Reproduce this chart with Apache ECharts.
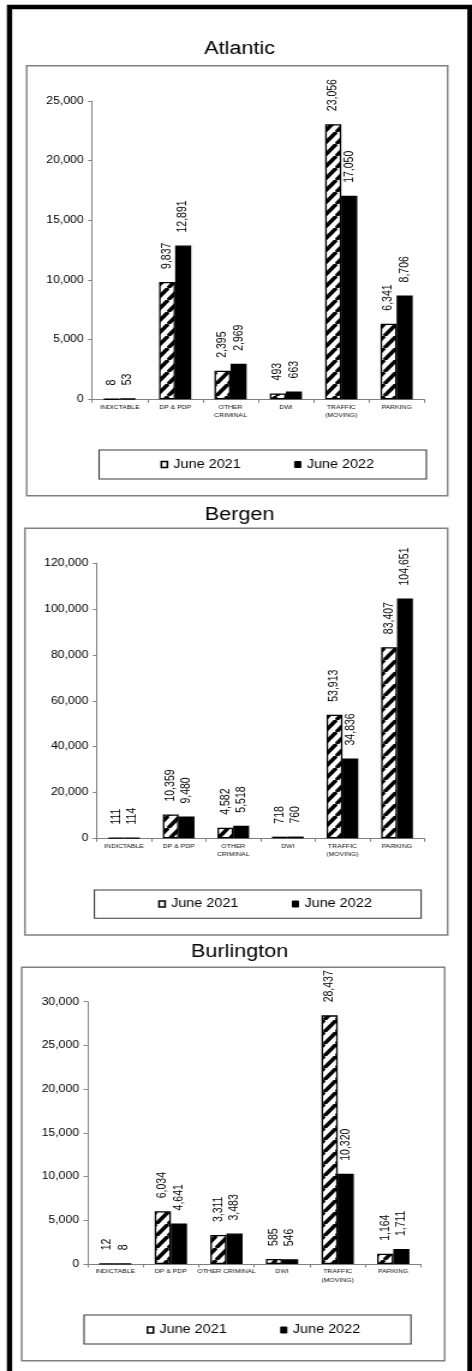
<!DOCTYPE html>
<html>
<head>
<meta charset="utf-8">
<script src="https://cdn.jsdelivr.net/npm/echarts@6/dist/echarts.min.js"></script>
<style>
  html, body { margin: 0; padding: 0; background: #fff; overflow: hidden; }
  /* chart is laid out narrow, then stretched sideways like the source image */
  #main { width: 393px; height: 1371px; transform: scaleX(1.201); transform-origin: 0 0; }
</style>
</head>
<body>
<div id="main"></div>
<script>
// data
const categories = ['INDICTABLE', 'DP & PDP', 'OTHER\nCRIMINAL', 'DWI', 'TRAFFIC\n(MOVING)', 'PARKING'];
const categoriesBurlington = ['INDICTABLE', 'DP & PDP', 'OTHER CRIMINAL', 'DWI', 'TRAFFIC\n(MOVING)', 'PARKING'];
const seriesNames = ['June 2021', 'June 2022'];

const atlantic2021 = [8, 9837, 2395, 493, 23056, 6341];
const atlantic2022 = [53, 12891, 2969, 663, 17050, 8706];
const bergen2021 = [111, 10359, 4582, 718, 53913, 83407];
const bergen2022 = [114, 9480, 5518, 760, 34836, 104651];
const burlington2021 = [12, 6034, 3311, 585, 28437, 1164];
const burlington2022 = [8, 4641, 3483, 546, 10320, 1711];

const counties = [
  { title: 'Atlantic', cats: categories, a: atlantic2021, b: atlantic2022, max: 25000, step: 5000 },
  { title: 'Bergen', cats: categories, a: bergen2021, b: bergen2022, max: 120000, step: 20000 },
  { title: 'Burlington', cats: categoriesBurlington, a: burlington2021, b: burlington2022, max: 30000, step: 5000 },
];

// layout (px, before the sideways stretch)
const FONT = '"Liberation Sans", Arial, sans-serif';
const grids = [
  { left: 76.7, top: 101, width: 276.6, height: 298.3 },
  { left: 80.6, top: 563.3, width: 272.7, height: 275 },
  { left: 72.8, top: 1001.7, width: 277.8, height: 262.3 },
];
const titleTops = [40.3, 506, 943];
const legendPos = [
  { left: 133.6, top: 458.5 },
  { left: 131.7, top: 898 },
  { left: 122, top: 1324 },
];
const boxes = [
  [22.2, 65.7, 372.75, 495.7],
  [20.8, 528.3, 372.75, 935],
  [18.1, 967.3, 370.25, 1360.7],
];
const legendBoxes = [
  [82.5, 450, 355, 479],
  [78.6, 890, 350.6, 918.3],
  [70, 1315, 342.2, 1344],
];

function hatch() {
  const w = 10, h = 12;
  const c = document.createElement('canvas');
  c.width = w; c.height = h;
  const ctx = c.getContext('2d');
  ctx.fillStyle = '#fff';
  ctx.fillRect(0, 0, w, h);
  ctx.strokeStyle = '#000';
  ctx.lineWidth = 3.5;
  ctx.beginPath();
  for (let k = -1; k <= 1; k++) {
    ctx.moveTo(k * w, h);
    ctx.lineTo(k * w + w, 0);
  }
  ctx.stroke();
  return c;
}
const hatchFill = { image: hatch(), repeat: 'repeat' };

const fmt = (v) => Number(v).toLocaleString('en-US');

const option = {
  backgroundColor: '#fff',
  animation: false,
  title: [],
  legend: [],
  grid: [],
  xAxis: [],
  yAxis: [],
  series: [],
  graphic: [],
};

counties.forEach((c, i) => {
  option.title.push({
    text: c.title,
    left: 199.6,
    top: titleTops[i],
    textAlign: 'center',
    padding: 0,
    textStyle: { fontFamily: FONT, fontSize: 18, fontWeight: 'normal', color: '#000' },
  });
  option.grid.push(Object.assign({ outerBoundsMode: 'none', containLabel: false }, grids[i]));
  option.xAxis.push({
    type: 'category',
    gridIndex: i,
    data: c.cats,
    axisLine: { lineStyle: { color: '#808080', width: 1 } },
    axisTick: { show: true, alignWithLabel: false, length: 3.5, lineStyle: { color: '#808080' } },
    axisLabel: { interval: 0, margin: 3.5, fontFamily: FONT, fontSize: 5.7, lineHeight: 8.4, color: '#111' },
    splitLine: { show: false },
  });
  option.yAxis.push({
    type: 'value',
    gridIndex: i,
    min: 0,
    max: c.max,
    interval: c.step,
    axisLine: { show: true, lineStyle: { color: '#808080', width: 1 } },
    axisTick: { show: true, length: 3.3, lineStyle: { color: '#808080' } },
    axisLabel: { margin: 7, fontFamily: FONT, fontSize: 10.2, color: '#000', formatter: fmt },
    splitLine: { show: false },
  });
  const label = {
    show: true,
    position: 'top',
    rotate: 90,
    align: 'left',
    verticalAlign: 'middle',
    distance: 13,
    fontFamily: FONT,
    fontSize: 10.5,
    color: '#000',
    formatter: (p) => fmt(p.value),
  };
  option.series.push({
    name: seriesNames[0],
    type: 'bar',
    xAxisIndex: i,
    yAxisIndex: i,
    data: c.a,
    barWidth: '29%',
    barGap: '0%',
    itemStyle: { color: hatchFill, borderColor: '#000', borderWidth: 1.3 },
    label: label,
  });
  option.series.push({
    name: seriesNames[1],
    type: 'bar',
    xAxisIndex: i,
    yAxisIndex: i,
    data: c.b,
    barWidth: '29%',
    barGap: '0%',
    itemStyle: { color: '#000', borderColor: '#000', borderWidth: 1.3 },
    label: label,
  });
  option.legend.push({
    left: legendPos[i].left,
    top: legendPos[i].top,
    padding: 0,
    itemGap: 44.5,
    itemWidth: 5,
    itemHeight: 6,
    icon: 'rect',
    selectedMode: false,
    textStyle: { fontFamily: FONT, fontSize: 12, color: '#000' },
    data: [
      { name: seriesNames[0], itemStyle: { color: '#fff', borderColor: '#000', borderWidth: 1.5 } },
      { name: seriesNames[1], itemStyle: { color: '#000', borderColor: '#000', borderWidth: 1 } },
    ],
  });
  const b = boxes[i];
  option.graphic.push({
    type: 'rect',
    silent: true,
    z: -1,
    shape: { x: b[0], y: b[1], width: b[2] - b[0], height: b[3] - b[1] },
    style: { fill: null, stroke: '#808080', lineWidth: 1.4 },
  });
  const lb = legendBoxes[i];
  option.graphic.push({
    type: 'rect',
    silent: true,
    z: -1,
    shape: { x: lb[0], y: lb[1], width: lb[2] - lb[0], height: lb[3] - lb[1] },
    style: { fill: null, stroke: '#3a3a3a', lineWidth: 1.1 },
  });
});

// heavy outer frame
option.graphic.push({
  type: 'rect',
  silent: true,
  shape: { x: 7.9, y: 7, width: 383.4, height: 1400 },
  style: { fill: null, stroke: '#000', lineWidth: 4.4 },
});

const chart = echarts.init(document.getElementById('main'), null, { renderer: 'canvas' });
chart.setOption(option);
</script>
</body>
</html>
